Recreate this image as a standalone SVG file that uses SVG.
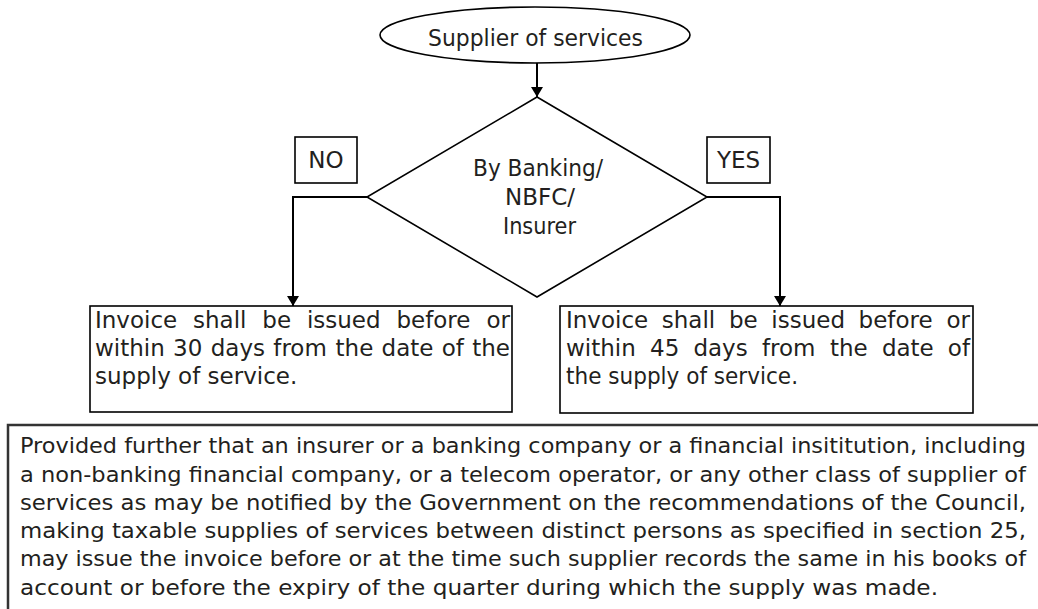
<svg xmlns="http://www.w3.org/2000/svg" width="1038" height="609" viewBox="0 0 1038 609">
<style>
.sh{fill:#fff;stroke:#000;stroke-width:1.6}
.t{font-family:"DejaVu Sans","Liberation Sans",sans-serif;font-size:23px;fill:#231f20}
.n{font-size:22px}
.c{stroke:#000;stroke-width:2;fill:none}
</style>
<defs>
<marker id="ah" markerWidth="10" markerHeight="12" refX="10" refY="6" orient="auto" markerUnits="userSpaceOnUse">
<path d="M0,0 L10,6 L0,12 Z" fill="#000"/>
</marker>
</defs>
<rect width="1038" height="609" fill="#fff"/>
<g id="connectors">
<line class="c" x1="537" y1="63" x2="537" y2="97" marker-end="url(#ah)"/>
<polyline class="c" points="367,197 293,197 293,306" marker-end="url(#ah)"/>
<polyline class="c" points="707,197 780,197 780,306" marker-end="url(#ah)"/>
</g>
<g id="start">
<ellipse class="sh" cx="535" cy="35" rx="155" ry="28"/>
<text class="t" x="428" y="46" textLength="215" lengthAdjust="spacingAndGlyphs">Supplier of services</text>
</g>
<g id="decision">
<polygon class="sh" points="537,97 707,197 537,297 367,197"/>
<text class="t" x="473" y="176" textLength="130" lengthAdjust="spacingAndGlyphs">By Banking/</text>
<text class="t" x="505" y="205" textLength="70" lengthAdjust="spacingAndGlyphs">NBFC/</text>
<text class="t" x="503" y="234" textLength="73" lengthAdjust="spacingAndGlyphs">Insurer</text>
</g>
<g id="no">
<rect class="sh" x="295" y="137" width="62" height="46"/>
<text class="t" x="326" y="168" text-anchor="middle">NO</text>
</g>
<g id="yes">
<rect class="sh" x="707" y="137" width="63" height="46"/>
<text class="t" x="738.5" y="168" text-anchor="middle">YES</text>
</g>
<g id="box30">
<rect class="sh" x="90" y="306" width="422" height="106"/>
<text class="t" y="328"><tspan x="95">Invoice</tspan><tspan x="193">shall</tspan><tspan x="262.3">be</tspan><tspan x="306.9">issued</tspan><tspan x="396.4">before</tspan><tspan x="510" text-anchor="end">or</tspan></text>
<text class="t" y="356"><tspan x="95">within</tspan><tspan x="173.1">30</tspan><tspan x="210.7">days</tspan><tspan x="273.3">from</tspan><tspan x="335.6">the</tspan><tspan x="381.6">date</tspan><tspan x="441.8">of</tspan><tspan x="510" text-anchor="end">the</tspan></text>
<text class="t" x="95" y="384">supply of service.</text>
</g>
<g id="box45">
<rect class="sh" x="560" y="306" width="413" height="107"/>
<text class="t" y="328"><tspan x="566">Invoice</tspan><tspan x="661.8">shall</tspan><tspan x="728.9">be</tspan><tspan x="771.3">issued</tspan><tspan x="858.6">before</tspan><tspan x="970" text-anchor="end">or</tspan></text>
<text class="t" y="356"><tspan x="566">within</tspan><tspan x="650">45</tspan><tspan x="693.4">days</tspan><tspan x="761.9">from</tspan><tspan x="830">the</tspan><tspan x="881.9">date</tspan><tspan x="970" text-anchor="end">of</tspan></text>
<text class="t" x="566" y="384" textLength="232" lengthAdjust="spacingAndGlyphs">the supply of service.</text>
</g>
<g id="note">
<path d="M8,612 L8,425 L1040,425" fill="none" stroke="#333" stroke-width="2.5"/>
<text class="t n" x="20" y="453" textLength="1006" lengthAdjust="spacingAndGlyphs">Provided further that an insurer or a banking company or a financial insititution, including</text>
<text class="t n" x="20" y="482" textLength="1006" lengthAdjust="spacingAndGlyphs">a non-banking financial company, or a telecom operator, or any other class of supplier of</text>
<text class="t n" x="20" y="510" textLength="1006" lengthAdjust="spacingAndGlyphs">services as may be notified by the Government on the recommendations of the Council,</text>
<text class="t n" x="20" y="538" textLength="1006" lengthAdjust="spacingAndGlyphs">making taxable supplies of services between distinct persons as specified in section 25,</text>
<text class="t n" x="20" y="566" textLength="1006" lengthAdjust="spacingAndGlyphs">may issue the invoice before or at the time such supplier records the same in his books of</text>
<text class="t n" x="20" y="595" textLength="918" lengthAdjust="spacingAndGlyphs">account or before the expiry of the quarter during which the supply was made.</text>
</g>
</svg>
